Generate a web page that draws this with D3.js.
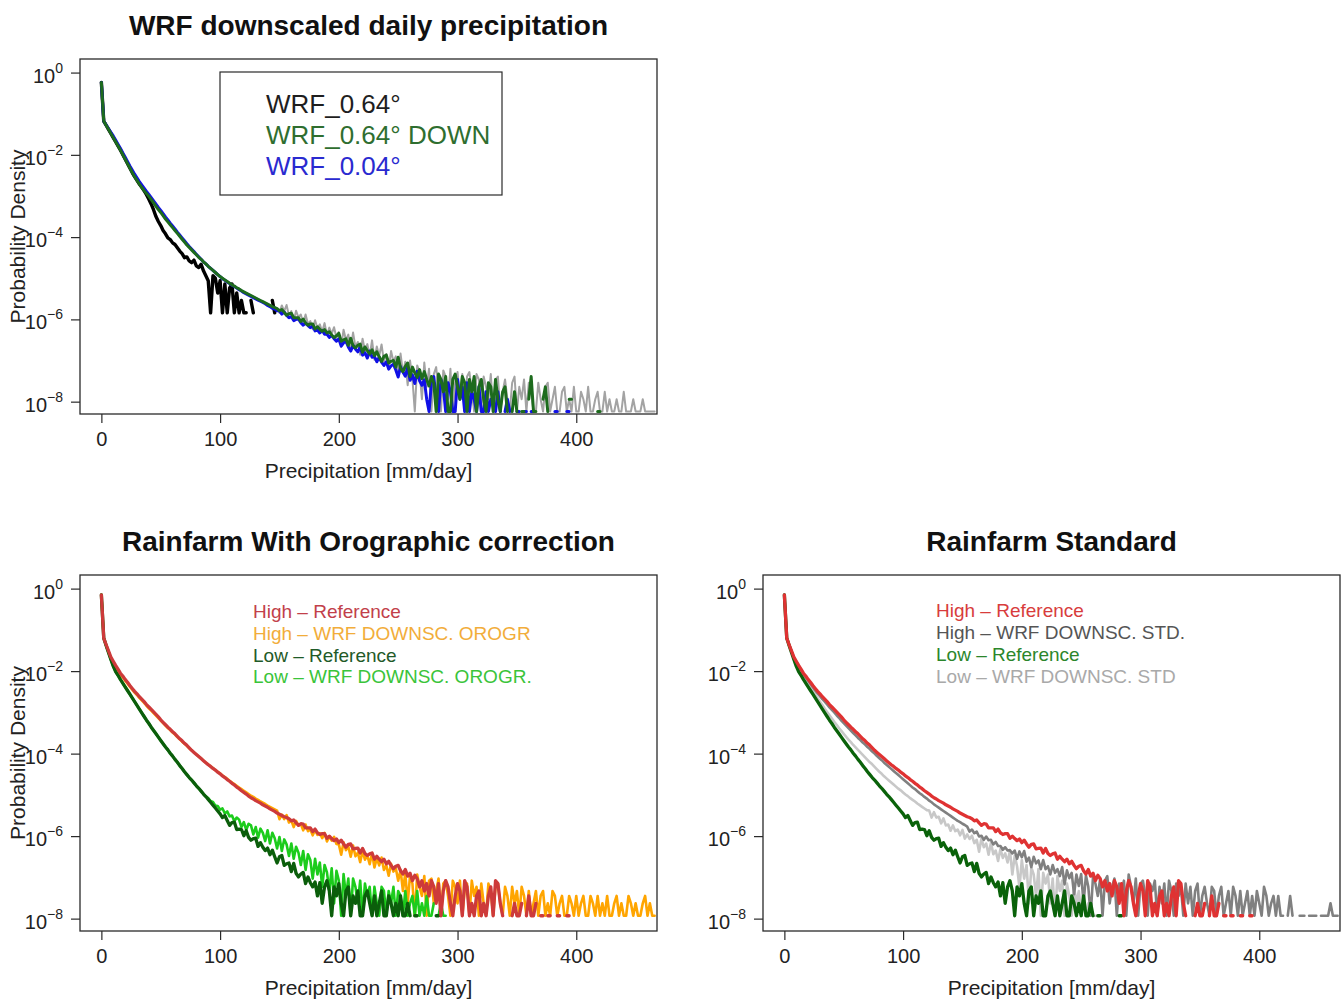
<!DOCTYPE html>
<html><head><meta charset="utf-8">
<script src="https://cdn.jsdelivr.net/npm/d3@7"></script>
<style>
body{margin:0;background:#fff;}
text{font-family:"Liberation Sans",Arial,Helvetica,sans-serif;}
</style>
</head><body>
<svg id="chart" width="1343" height="1000"></svg>
<script>
// ---------- data: log10 of probability density, one value per 2 mm/day bin starting at 0 ----------
const binWidthMm = 2;
const xTickValues = [0, 100, 200, 300, 400];
const yTickExponents = [0, -2, -4, -6, -8];
const xDomainMm = [-18, 468];
const yDomainLog10 = [-8.3, 0.33];

// Top panel: WRF downscaled daily precipitation
const wrf064 = [
-0.24,-1.18,-1.28,-1.38,-1.48,-1.58,-1.68,-1.78,-1.88,-1.99,
-2.10,-2.21,-2.32,-2.43,-2.53,-2.62,-2.71,-2.79,-2.87,-2.97,
-3.08,-3.20,-3.34,-3.50,-3.62,-3.72,-3.84,-3.92,-4.02,-4.06,
-4.14,-4.18,-4.26,-4.34,-4.40,-4.50,-4.48,-4.58,-4.62,-4.56,
-4.70,-4.74,-4.66,-4.82,-4.94,-5.06,-5.84,-4.94,-5.00,-5.36,
-5.06,-5.84,-5.14,-5.84,-5.24,-5.14,-5.84,-5.36,-5.84,-5.54,
-5.84,-5.84,null,-5.54,-5.84,null,null,null,null,null,
null,null,-5.54,-5.84];

const wrf064Down = [
-0.24,-1.18,-1.28,-1.38,-1.48,-1.58,-1.68,-1.78,-1.88,-1.99,
-2.10,-2.21,-2.32,-2.43,-2.53,-2.62,-2.71,-2.79,-2.87,-2.94,
-3.01,-3.09,-3.17,-3.25,-3.33,-3.40,-3.48,-3.56,-3.63,-3.70,
-3.77,-3.84,-3.91,-3.98,-4.05,-4.12,-4.19,-4.25,-4.31,-4.37,
-4.43,-4.49,-4.54,-4.60,-4.65,-4.71,-4.76,-4.81,-4.86,-4.91,
-4.96,-5.00,-5.04,-5.08,-5.12,-5.16,-5.19,-5.23,-5.26,-5.30,
-5.33,-5.36,-5.39,-5.42,-5.45,-5.48,-5.51,-5.54,-5.57,-5.60,
-5.63,-5.66,-5.69,-5.71,-5.74,
-5.79,-5.76,-5.83,-5.90,-5.86,-5.85,-5.96,-5.96,-5.96,-6.05,
-5.99,-6.09,-6.14,-6.11,-6.11,-6.23,-6.18,-6.24,-6.29,-6.25,
-6.33,-6.30,-6.38,-6.44,-6.40,-6.34,-6.53,-6.50,-6.47,-6.63,
-6.46,-6.64,-6.69,-6.63,-6.60,-6.80,-6.67,-6.76,-6.84,-6.74,
-6.88,-6.79,-6.91,-7.02,-6.90,-6.87,-7.06,-7.02,-7.00,-7.16,
-6.92,-7.19,-7.27,-7.14,-7.06,-7.39,-7.16,-7.30,-7.41,-7.22,
-7.44,-7.27,-7.46,-7.62,
-7.39,-7.54,-8.24,-7.33,-7.46,-7.76,-7.39,-8.24,-8.24,-7.46,
-7.33,-7.64,-7.94,-7.39,-7.54,-8.24,-7.46,-7.76,-7.39,-8.24,
-7.64,-7.46,-7.94,-8.24,-7.54,-7.64,-8.24,-7.46,-7.94,-8.24,
-7.76,-7.64,-8.24,null,-8.24,-7.76,-8.24,null,-8.24,-8.24,
null,-7.94,-7.39,-8.24,-8.24,null,null,-7.94,-7.64,-8.24,
null,null,null,null,null,null,null,null,-7.94,-7.94,
null,null,null,null,null,null,null,null,null,null,
-8.24,-8.24];

const wrf004 = [
-0.24,-1.18,-1.27,-1.36,-1.45,-1.54,-1.64,-1.74,-1.84,-1.95,
-2.05,-2.16,-2.27,-2.37,-2.47,-2.56,-2.65,-2.73,-2.81,-2.89,
-2.96,-3.04,-3.12,-3.20,-3.28,-3.35,-3.43,-3.51,-3.58,-3.66,
-3.73,-3.80,-3.88,-3.95,-4.02,-4.09,-4.16,-4.23,-4.29,-4.35,
-4.42,-4.48,-4.54,-4.60,-4.65,
-4.71,-4.76,-4.81,-4.86,-4.91,-4.96,-5.01,-5.05,-5.09,-5.13,
-5.17,-5.20,-5.24,-5.28,-5.31,-5.35,-5.38,-5.41,-5.44,-5.47,
-5.50,-5.53,-5.56,-5.59,-5.62,-5.66,-5.69,-5.73,-5.75,-5.79,
-5.79,-5.87,-5.82,-5.90,-5.96,-5.93,-6.03,-6.00,-5.99,-6.08,
-6.14,-6.09,-6.15,-6.20,-6.16,-6.28,-6.26,-6.33,-6.27,-6.36,
-6.36,-6.44,-6.39,-6.47,-6.53,-6.47,-6.65,-6.57,-6.53,-6.67,
-6.77,-6.63,-6.72,-6.79,-6.67,-6.87,-6.81,-6.94,-6.77,-6.92,
-6.90,-7.03,-6.92,-7.04,-7.12,-7.03,-7.21,-7.13,-7.09,-7.23,
-7.40,-7.15,-7.28,-7.38,-7.17,-7.48,-7.35,-7.56,-7.26,-7.49,
-7.60,-7.47,-7.94,
-8.24,-7.54,-7.39,-7.94,-8.24,-7.46,-7.64,-8.24,-7.54,-7.76,
-8.24,-8.24,-7.46,-7.94,-7.64,-8.24,-7.54,-8.24,-7.76,-7.94,
-8.24,-7.64,-8.24,-8.24,-7.76,-8.24,-7.94,null,-8.24,-7.76,
-8.24,null,-8.24,-7.94,-8.24,null,null,-8.24,-8.24,null,
-8.24,-8.24,null,-8.24,-8.24,null,null,null,null,null,
null,null,null,-8.24,-8.24,null,null,null,-8.24,-8.24];

const wrfGrayUnlabelled = [
-0.24,-1.18,-1.28,-1.38,-1.48,-1.58,-1.68,-1.78,-1.88,-1.99,
-2.10,-2.21,-2.32,-2.43,-2.53,-2.62,-2.71,-2.79,-2.87,-2.94,
-3.01,-3.09,-3.17,-3.25,-3.33,-3.40,-3.48,-3.56,-3.63,-3.70,
-3.77,-3.84,-3.91,-3.98,-4.05,-4.12,-4.19,-4.25,-4.31,-4.37,
-4.43,-4.49,-4.54,-4.60,-4.65,-4.71,-4.76,-4.81,-4.86,-4.91,
-4.96,-5.00,-5.04,-5.08,-5.12,-5.16,-5.19,-5.23,-5.26,-5.30,
-5.33,-5.36,-5.39,-5.42,-5.45,-5.48,-5.51,-5.54,-5.57,-5.60,
-5.63,-5.66,-5.69,-5.71,-5.74,
-5.84,-5.66,-5.80,-5.65,-5.91,-5.80,-6.03,-5.79,-5.95,-5.88,
-6.10,-5.88,-6.11,-6.04,-6.24,-6.02,-6.21,-6.12,-6.30,-6.09,
-6.38,-6.20,-6.35,-6.19,-6.45,-6.31,-6.67,-6.25,-6.50,-6.37,
-6.70,-6.32,-6.67,-6.55,-6.86,-6.47,-6.76,-6.60,-6.88,-6.51,
-6.98,-6.66,-6.89,-6.61,-7.02,-6.84,-7.20,-6.77,-7.03,-6.90,
-7.35,-6.83,-7.30,-7.03,-7.60,-7.00,
-7.45,-8.24,-7.12,-7.28,-7.94,-7.05,-7.64,-7.20,-8.24,-7.33,
-7.16,-7.76,-8.24,-7.24,-7.39,-7.94,-7.20,-8.24,-7.54,-7.28,
-7.94,-7.33,-8.24,-7.39,-7.28,-7.76,-8.24,-7.33,-7.46,-8.24,
-7.39,-7.64,-7.94,-7.33,-8.24,-7.46,-7.39,-8.24,-7.76,-7.46,
-7.94,-8.24,-7.54,-7.39,-8.24,-7.64,-7.94,-7.46,-8.24,-7.54,
-7.76,-8.24,-8.24,-7.54,-7.94,-8.24,-7.64,-7.54,-8.24,-7.94,
-7.64,-8.24,-8.24,-7.76,-7.64,-8.24,-7.94,-8.24,-7.64,-8.24,
-8.24,-7.76,-7.94,-8.24,-7.64,-8.24,-8.24,-7.94,-7.76,-8.24,
-8.24,-7.76,-8.24,-7.94,-8.24,-8.24,-7.94,-8.24,-8.24,-7.76,
-8.24,-8.24,-8.24,-7.94,-8.24,-8.24,-8.24,-7.94,-8.24,-8.24,
-8.24,-8.24,-8.24];

// Bottom panels: references (shared by both Rainfarm panels)
const highReference = [
-0.15,-1.20,-1.36,-1.51,-1.66,-1.76,-1.86,-1.95,-2.05,-2.12,
-2.20,-2.27,-2.35,-2.42,-2.49,-2.55,-2.62,-2.68,-2.74,-2.81,
-2.87,-2.93,-2.99,-3.05,-3.11,-3.18,-3.24,-3.30,-3.36,-3.41,
-3.47,-3.52,-3.58,-3.64,-3.69,-3.75,-3.80,-3.86,-3.92,-3.97,
-4.02,-4.07,-4.12,-4.17,-4.22,-4.27,-4.31,-4.36,-4.40,-4.45,
-4.49,-4.54,-4.58,-4.63,-4.67,-4.72,-4.76,-4.81,-4.85,-4.90,
-4.94,-4.98,-5.03,-5.07,-5.10,-5.14,-5.17,-5.20,-5.24,-5.27,
-5.30,-5.34,-5.37,-5.40,-5.44,-5.47,-5.50,-5.53,-5.55,-5.58,
-5.63,-5.61,-5.68,-5.74,-5.70,-5.71,-5.80,-5.80,-5.80,-5.89,
-5.83,-5.92,-5.96,-5.94,-5.94,-6.05,-6.00,-6.06,-6.11,-6.07,
-6.16,-6.10,-6.19,-6.27,-6.20,-6.19,-6.31,-6.30,-6.29,-6.41,
-6.30,-6.42,-6.47,-6.43,-6.41,-6.56,-6.49,-6.56,-6.62,-6.56,
-6.67,-6.61,-6.71,-6.79,-6.73,-6.71,
-6.84,-6.92,-6.81,-6.97,-6.90,-7.08,-6.95,-7.03,-7.23,-7.08,
-7.33,-7.15,-7.45,-7.08,-7.23,-7.63,-7.15,-7.93,-7.33,-7.08,
-7.23,-7.63,-7.93,-7.45,-7.15,-7.33,-7.93,-7.08,-7.23,-7.93,
-7.63,-7.93,-7.45,-7.33,-7.93,-7.63,-7.93,-7.45,-7.23,-7.93,
-7.08,-7.15,-7.63,-7.93,null,null,null,-7.93,-7.63,-7.93,
-7.93,-7.63,null,-7.93,-7.45,-7.93,-7.93,-7.63,null,-7.93,
-7.93,null,-7.93,-7.93,null,null,-7.93,-7.93,null,null,
-7.93,-7.93];

const lowReference = [
-0.15,-1.20,-1.38,-1.55,-1.72,-1.88,-2.01,-2.10,-2.20,-2.29,
-2.38,-2.47,-2.56,-2.65,-2.74,-2.83,-2.92,-3.01,-3.10,-3.19,
-3.27,-3.36,-3.44,-3.52,-3.60,-3.68,-3.76,-3.84,-3.91,-3.99,
-4.06,-4.14,-4.21,-4.29,-4.36,-4.44,-4.51,-4.58,-4.64,-4.71,
-4.78,-4.84,-4.91,-4.98,-5.04,-5.11,-5.18,-5.25,-5.32,-5.39,
-5.46,
-5.55,-5.50,-5.62,-5.74,-5.67,-5.66,-5.84,-5.83,-5.84,-5.99,
-5.87,-6.03,-6.10,-6.06,-6.05,-6.25,-6.16,-6.27,-6.35,-6.29,
-6.45,-6.34,-6.50,-6.65,-6.50,-6.47,-6.71,-6.67,-6.65,-6.86,
-6.66,-6.90,-6.99,-6.92,-6.88,-7.15,-6.99,-7.13,-7.23,-7.11,
-7.45,-7.13,-7.63,
-7.23,-7.08,-7.33,-7.93,-7.23,-7.45,-7.15,-7.63,-7.93,-7.33,
-7.23,-7.93,-7.45,-7.63,-7.33,-7.93,-7.93,-7.45,-7.33,-7.63,
-7.93,-7.45,-7.93,-7.63,-7.33,-7.93,-7.93,-7.45,-7.63,-7.93,
-7.63,-7.93,-7.45,-7.93,-7.93,-7.63,-7.93,null,-7.93,-7.93,
null,null,null,null,null,null,null,-7.93,-7.93];

// Rainfarm with orographic correction
const highWrfDownscOrogr = [
-0.15,-1.20,-1.37,-1.53,-1.69,-1.79,-1.89,-1.98,-2.08,-2.15,
-2.23,-2.30,-2.38,-2.45,-2.52,-2.58,-2.65,-2.71,-2.77,-2.84,
-2.90,-2.96,-3.02,-3.08,-3.14,-3.20,-3.26,-3.32,-3.38,-3.43,
-3.49,-3.54,-3.60,-3.65,-3.71,-3.76,-3.81,-3.87,-3.92,-3.97,
-4.02,-4.07,-4.12,-4.17,-4.22,-4.26,-4.31,-4.35,-4.40,-4.44,
-4.48,-4.53,-4.57,-4.61,-4.66,-4.70,-4.74,-4.78,-4.82,-4.86,
-4.90,-4.94,-4.98,-5.02,-5.05,-5.09,-5.12,-5.16,-5.19,-5.22,
-5.26,-5.29,-5.32,-5.35,-5.38,
-5.59,-5.48,-5.59,-5.49,-5.67,-5.62,-5.78,-5.63,-5.74,-5.71,
-5.86,-5.72,-5.88,-5.84,-5.98,-5.85,-5.97,-5.93,-6.05,-5.92,
-6.13,-6.01,-6.11,-6.02,-6.19,-6.20,-6.45,-6.15,-6.34,-6.25,
-6.50,-6.23,-6.49,-6.40,-6.63,-6.36,-6.57,-6.47,-6.68,-6.41,
-6.76,-6.54,-6.71,-6.52,-6.82,-6.71,-6.96,-6.67,-6.86,-6.78,
-7.08,-6.82,-7.33,-6.90,-7.63,-6.95,-7.15,-7.93,-6.93,-7.23,
-7.45,-6.97,-7.93,-7.08,-7.03,-7.63,-7.33,-7.03,-7.93,-7.15,
-7.08,-7.45,-7.93,-7.08,-7.23,-7.63,-7.08,-7.93,-7.33,-7.15,
-7.93,-7.08,-7.45,-7.23,-7.93,-7.15,-7.63,-7.93,-7.15,-7.33,
-7.93,-7.23,-7.15,-7.63,-7.93,-7.23,-7.45,-7.93,-7.23,-7.63,
-7.33,-7.93,-7.23,-7.45,-7.93,-7.33,-7.93,-7.63,-7.33,-7.93,
-7.45,-7.33,-7.93,-7.63,-7.93,-7.33,-7.45,-7.93,-7.63,-7.45,
-7.93,-7.93,-7.45,-7.63,-7.93,-7.45,-7.93,-7.63,-7.45,-7.93,
-7.93,-7.45,-7.63,-7.93,-7.45,-7.93,-7.63,-7.93,-7.45,-7.93,
-7.93,-7.63,-7.45,-7.93,-7.63,-7.93,-7.93,-7.45,-7.63,-7.93,
-7.63,-7.93,-7.93,-7.63,-7.45,-7.93,-7.63,-7.93,-7.93];

const lowWrfDownscOrogr = [
-0.15,-1.20,-1.38,-1.55,-1.72,-1.88,-2.01,-2.10,-2.20,-2.29,
-2.38,-2.47,-2.56,-2.65,-2.74,-2.83,-2.92,-3.01,-3.10,-3.19,
-3.27,-3.36,-3.44,-3.52,-3.60,-3.68,-3.76,-3.84,-3.91,-3.99,
-4.06,-4.14,-4.21,-4.29,-4.36,-4.44,-4.51,-4.58,-4.64,-4.71,
-4.78,-4.84,-4.91,-4.98,-5.04,
-5.08,-5.15,-5.17,-5.26,-5.27,-5.36,-5.33,-5.45,-5.40,-5.52,
-5.50,-5.64,-5.55,-5.60,-5.78,-5.66,-5.85,-5.70,-5.74,-5.96,
-5.78,-6.04,-5.82,-5.92,-6.12,-5.86,-6.18,-5.92,-6.05,-6.30,
-6.02,-6.36,-6.08,-6.20,-6.48,-6.18,-6.55,-6.26,-6.40,-6.70,
-6.36,-6.82,-6.44,-6.58,-7.03,-6.55,-6.93,-6.64,-7.23,-6.70,
-6.88,-7.33,-6.78,-7.63,-6.84,-7.08,-7.93,-6.92,-7.45,-7.03,
-7.93,-7.03,-7.23,-7.63,-7.08,-7.93,-7.15,-7.45,-7.23,-7.93,
-7.23,-7.63,-7.93,-7.23,-7.33,-7.93,-7.33,-7.63,-7.23,-7.93,
-7.33,-7.45,-7.93,-7.33,-7.93,-7.63,-7.45,-7.93,-7.33,-7.93,
-7.63,-7.93,-7.45,-7.93,-7.93,-7.63,null,-7.93,-7.63,-7.93,
-7.93];

// Rainfarm standard
const highWrfDownscStd = [
-0.15,-1.20,-1.36,-1.51,-1.67,-1.77,-1.87,-1.97,-2.07,-2.15,
-2.23,-2.31,-2.39,-2.47,-2.54,-2.61,-2.68,-2.74,-2.81,-2.88,
-2.94,-3.00,-3.07,-3.13,-3.20,-3.26,-3.32,-3.38,-3.44,-3.50,
-3.56,-3.62,-3.67,-3.73,-3.78,-3.84,-3.89,-3.95,-4.00,-4.06,
-4.11,-4.16,-4.22,-4.27,-4.32,-4.37,-4.42,-4.47,-4.52,-4.57,
-4.62,-4.67,-4.72,-4.77,-4.82,-4.86,-4.91,-4.96,-5.00,-5.05,
-5.09,-5.14,-5.18,-5.23,-5.27,-5.31,-5.35,-5.39,-5.43,-5.47,
-5.51,-5.55,-5.59,-5.63,-5.66,-5.70,-5.73,-5.77,
-5.89,-5.84,-5.93,-5.89,-6.01,-5.99,-6.09,-6.01,-6.10,-6.09,
-6.20,-6.14,-6.24,-6.24,-6.33,-6.27,-6.35,-6.34,-6.42,-6.35,
-6.55,-6.37,-6.51,-6.36,-6.62,-6.52,-6.75,-6.50,-6.66,-6.59,
-6.80,-6.58,-6.80,-6.73,-6.93,-6.70,-6.89,-6.80,-6.97,-6.75,
-7.17,-6.83,-7.02,-6.89,-7.41,-6.93,-7.21,-6.92,-7.63,-6.95,
-7.23,-7.93,-6.97,-7.15,-7.45,-7.03,-7.93,-7.08,-6.97,-7.63,
-7.23,-7.03,-7.93,-7.15,-7.33,-7.08,-7.93,-6.93,-7.23,-7.63,
-7.03,-7.93,-7.15,-7.08,-7.45,-7.93,-7.15,-7.33,-7.08,-7.93,
-7.23,-7.63,-7.15,-7.93,-7.08,-7.33,-7.93,-7.15,-7.45,-7.23,
-7.93,-7.15,-7.63,-7.23,-7.93,-7.33,-7.15,-7.93,-7.45,-7.23,
-7.63,-7.93,-7.23,-7.33,-7.93,-7.45,-7.23,-7.93,-7.63,-7.33,
-7.93,-7.23,-7.45,-7.93,-7.33,-7.93,-7.63,-7.33,-7.93,-7.45,
-7.93,-7.33,-7.63,-7.93,-7.23,-7.45,-7.93,-7.63,-7.45,-7.93,
-7.45,-7.93,-7.93,null,-7.93,-7.45,-7.93,null,null,-7.93,
-7.93,-7.93,null,-7.93,-7.93,-7.93,-7.93,null,-7.93,-7.93,
-7.93,-7.93,-7.63,-7.93,-7.93,-7.93];

const lowWrfDownscStd = [
-0.15,-1.20,-1.37,-1.53,-1.69,-1.84,-1.96,-2.05,-2.14,-2.23,
-2.32,-2.40,-2.49,-2.57,-2.66,-2.74,-2.82,-2.91,-2.99,-3.07,
-3.15,-3.23,-3.30,-3.38,-3.45,-3.52,-3.59,-3.66,-3.72,-3.79,
-3.85,-3.91,-3.97,-4.03,-4.09,-4.15,-4.21,-4.26,-4.32,-4.38,
-4.44,-4.49,-4.55,-4.60,-4.65,-4.70,-4.75,-4.80,-4.85,-4.89,
-4.94,-4.99,-5.03,-5.08,-5.12,-5.16,-5.21,-5.25,-5.29,-5.33,
-5.37,
-5.38,-5.55,-5.42,-5.55,-5.53,-5.69,-5.57,-5.74,-5.72,-5.87,
-5.74,-5.88,-5.84,-5.98,-5.85,-6.06,-5.96,-6.07,-5.99,-6.17,
-6.09,-6.38,-6.06,-6.27,-6.18,-6.45,-6.16,-6.44,-6.35,-6.60,
-6.31,-6.53,-6.42,-6.64,-6.35,-6.93,-6.48,-6.73,-7.25,-6.58,
-7.03,-6.70,-7.63,-6.76,-6.93,-7.45,-6.80,-7.93,-6.89,-7.15,
-6.93,-7.63,-7.03,-7.93,-6.97,-7.33,-7.08,-7.93,-7.15,-7.45,
-7.93,-7.23,-7.63,-7.33,-7.93,-7.45,-7.93,-7.63,-7.93,null,
-7.93,-7.93];

// ---------- layout & drawing ----------
const svg = d3.select('#chart');
svg.append('rect').attr('width',1343).attr('height',1000).attr('fill','#fff');

const panels = [
  {id:'top', title:'WRF downscaled daily precipitation', left:80, right:657, top:59, bottom:414,
   titleY:35, xTitleY:478, yTitle:true,
   series:[
     {values:wrfGrayUnlabelled, color:'#a3a3a3', width:2.0},
     {values:wrf064, color:'#000000', width:3.4},
     {values:wrf004, color:'#1010e6', width:3.0},
     {values:wrf064Down, color:'#1d6b1d', width:3.0}
   ],
   legendBox:{x:220, y:72, w:282, h:123},
   legend:{x:266, y0:113, dy:31, size:26, items:[
     {label:'WRF_0.64°', color:'#1e1e1e'},
     {label:'WRF_0.64° DOWN', color:'#2f6e2f'},
     {label:'WRF_0.04°', color:'#2a2ad0'}]}
  },
  {id:'bl', title:'Rainfarm With Orographic correction', left:80, right:657, top:575, bottom:931,
   titleY:551, xTitleY:995, yTitle:true,
   series:[
     {values:highWrfDownscOrogr, color:'#ffa500', width:2.6},
     {values:lowWrfDownscOrogr, color:'#1ccc1c', width:2.6},
     {values:lowReference, color:'#0b5e0b', width:3.3},
     {values:highReference, color:'#cd3a3a', width:3.3}
   ],
   legend:{x:253, y0:618, dy:21.8, size:19, items:[
     {label:'High – Reference', color:'#c2404a'},
     {label:'High – WRF DOWNSC. OROGR', color:'#f2ad3a'},
     {label:'Low – Reference', color:'#1f5a28'},
     {label:'Low – WRF DOWNSC. OROGR.', color:'#3ac43a'}]}
  },
  {id:'br', title:'Rainfarm Standard', left:763, right:1340, top:575, bottom:931,
   titleY:551, xTitleY:995, yTitle:false,
   series:[
     {values:lowWrfDownscStd, color:'#c8c8c8', width:2.6},
     {values:highWrfDownscStd, color:'#808080', width:2.6},
     {values:lowReference, color:'#0a620a', width:3.3},
     {values:highReference, color:'#df3232', width:3.3}
   ],
   legend:{x:936, y0:617, dy:22, size:19, items:[
     {label:'High – Reference', color:'#d83c3c'},
     {label:'High – WRF DOWNSC. STD.', color:'#555555'},
     {label:'Low – Reference', color:'#2b862b'},
     {label:'Low – WRF DOWNSC. STD', color:'#a9a9a9'}]}
  }
];

const axisColor = '#2a2a2a';

panels.forEach(p => {
  const x = d3.scaleLinear().domain(xDomainMm).range([p.left, p.right]);
  const y = d3.scaleLog().domain([Math.pow(10, yDomainLog10[0]), Math.pow(10, yDomainLog10[1])]).range([p.bottom, p.top]);
  const g = svg.append('g');
  const clipId = 'clip-' + p.id;
  svg.append('clipPath').attr('id', clipId).append('rect')
    .attr('x', p.left).attr('y', p.top).attr('width', p.right - p.left).attr('height', p.bottom - p.top);

  const line = d3.line()
    .defined(d => d[1] !== null)
    .x(d => x(d[0]))
    .y(d => y(Math.pow(10, d[1])));

  const plot = g.append('g').attr('clip-path', `url(#${clipId})`);
  p.series.forEach(s => {
    const pts = s.values.map((v, i) => [i * binWidthMm, v]);
    plot.append('path').attr('d', line(pts))
      .attr('fill','none').attr('stroke', s.color).attr('stroke-width', s.width)
      .attr('stroke-linejoin','round').attr('stroke-linecap','round');
  });

  g.append('rect').attr('x', p.left).attr('y', p.top)
    .attr('width', p.right - p.left).attr('height', p.bottom - p.top)
    .attr('fill','none').attr('stroke', axisColor).attr('stroke-width', 1.3);

  const xa = g.append('g').attr('transform', `translate(0,${p.bottom})`)
    .call(d3.axisBottom(x).tickValues(xTickValues).tickSize(9).tickPadding(9).tickFormat(d3.format('d')));
  xa.select('.domain').remove();
  xa.selectAll('line').attr('stroke', axisColor).attr('stroke-width', 1.2);
  xa.selectAll('text').attr('font-size', 20).attr('fill', '#222')
    .attr('font-family', '"Liberation Sans",Arial,sans-serif');

  const yTickVals = yTickExponents.map(e => Math.pow(10, e));
  const ya = g.append('g').attr('transform', `translate(${p.left},0)`)
    .call(d3.axisLeft(y).tickValues(yTickVals).tickSize(9).tickFormat(() => ''));
  ya.select('.domain').remove();
  ya.selectAll('line').attr('stroke', axisColor).attr('stroke-width', 1.2);
  yTickExponents.forEach(e => {
    const ty = y(Math.pow(10, e));
    const t = g.append('text').attr('x', p.left - 17).attr('y', ty + 10)
      .attr('text-anchor','end').attr('fill','#222').attr('font-size', 20);
    t.append('tspan').text('10');
    t.append('tspan').attr('dy', -10).attr('font-size', 14).text(e === 0 ? '0' : '\u2212' + Math.abs(e));
  });

  g.append('text').attr('x', (p.left + p.right) / 2).attr('y', p.titleY)
    .attr('text-anchor','middle').attr('font-size', 28).attr('font-weight','bold').attr('fill','#111')
    .text(p.title);
  g.append('text').attr('x', (p.left + p.right) / 2).attr('y', p.xTitleY)
    .attr('text-anchor','middle').attr('font-size', 21).attr('fill','#222')
    .text('Precipitation [mm/day]');
  if (p.yTitle) {
    g.append('text').attr('transform', `translate(25,${(p.top + p.bottom) / 2}) rotate(-90)`)
      .attr('text-anchor','middle').attr('font-size', 21).attr('fill','#222')
      .text('Probability Density');
  }

  if (p.legendBox) {
    g.append('rect').attr('x', p.legendBox.x).attr('y', p.legendBox.y)
      .attr('width', p.legendBox.w).attr('height', p.legendBox.h)
      .attr('fill','#fff').attr('stroke', axisColor).attr('stroke-width', 1.2);
  }
  p.legend.items.forEach((it, i) => {
    g.append('text').attr('x', p.legend.x).attr('y', p.legend.y0 + i * p.legend.dy)
      .attr('font-size', p.legend.size).attr('fill', it.color).text(it.label);
  });
});
</script>
</body></html>
